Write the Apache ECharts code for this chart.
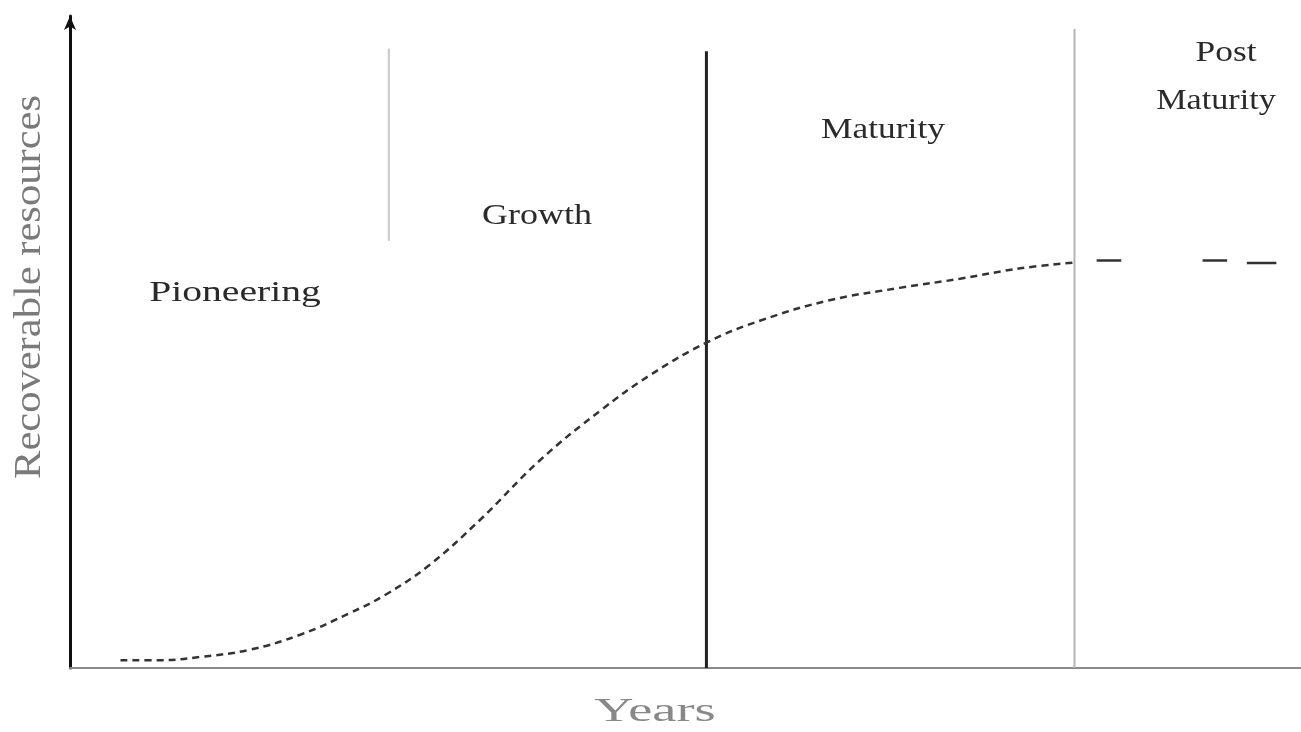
<!DOCTYPE html>
<html>
<head>
<meta charset="utf-8">
<title>Field life cycle</title>
<script src="https://cdn.jsdelivr.net/npm/echarts@6/dist/echarts.min.js"></script>
</head>
<body style="margin:0;background:#fff;">
<div id="main" style="width:1301px;height:732px;"></div>
<script>
// cumulative recoverable resources over the field's life (arbitrary units, 0-100)
var curveYears = [4.1, 7.3, 10.6, 14.6, 18.7, 22.7, 25.6, 29.2, 33.3, 38.2, 43.1, 47.1, 51.7, 56.1, 61.7, 67.4, 72.3, 77.2, 81.6];
var curveValues = [1.2, 1.2, 1.7, 2.8, 5.1, 8.4, 11.2, 15.8, 22.7, 31.9, 39.5, 44.9, 49.9, 53.3, 56.4, 58.3, 59.7, 61.3, 62.2];
// post maturity plateau, drawn as broken dashes
var tailYears = [83.4, 85.4, null, 92.0, 94.0, null, 95.6, 98.0];
var tailValues = [62.5, 62.5, null, 62.5, 62.5, null, 62.1, 62.1];
// phase boundaries: [year, top, bottom]
var boundaryGrowth = [25.9, 95.0, 65.5];
var boundaryMaturity = [51.7, 94.6, 0];
var boundaryPost = [81.6, 98.0, 0];
var phaseNames = ['Pioneering', 'Growth', 'Maturity', 'Post', 'Maturity'];

function pairs(xs, ys) {
    var out = [];
    for (var i = 0; i < xs.length; i++) {
        out.push(xs[i] == null ? [null, null] : [xs[i], ys[i]]);
    }
    return out;
}
function vline(b) {
    return [[b[0], b[2]], [b[0], b[1]]];
}
// serif label, stretched a little sideways like the scanned original
function label(text, x, y, sx, size, color) {
    return {
        type: 'text', x: x, y: y, scaleX: sx,
        style: {
            text: text, fontFamily: 'Liberation Serif', fontSize: size || 30,
            fill: color || '#2a2a2a', align: 'center', verticalAlign: 'middle'
        }
    };
}

var myChart = echarts.init(document.getElementById('main'));
var yName = label('Recoverable resources', 30, 287, 1.15, 37, '#7a7a7a');
yName.rotation = Math.PI / 2;

var option = {
    animation: false,
    grid: { left: 70, right: 0, top: 16, bottom: 64 },
    xAxis: {
        type: 'value', min: 0, max: 100,
        axisLine: { show: true, onZero: false, lineStyle: { color: '#8a8a8a', width: 2 } },
        axisTick: { show: false }, axisLabel: { show: false }, splitLine: { show: false }
    },
    yAxis: {
        type: 'value', min: 0, max: 100,
        axisLine: { show: true, symbol: ['none', 'arrow'], symbolSize: [9, 14], lineStyle: { color: '#111', width: 3 } },
        axisTick: { show: false }, axisLabel: { show: false }, splitLine: { show: false }
    },
    series: [
        {
            type: 'line', data: vline(boundaryGrowth), symbol: 'none',
            lineStyle: { color: '#c8c8c8', width: 2 }
        },
        {
            type: 'line', data: vline(boundaryMaturity), symbol: 'none',
            lineStyle: { color: '#222', width: 3 }
        },
        {
            type: 'line', data: vline(boundaryPost), symbol: 'none',
            lineStyle: { color: '#b5b5b5', width: 2 }
        },
        {
            type: 'line', data: pairs(curveYears, curveValues), symbol: 'none', smooth: 0.4,
            lineStyle: { color: '#333', width: 2.5, type: [7, 5] }
        },
        {
            type: 'line', data: pairs(tailYears, tailValues), symbol: 'none', connectNulls: false,
            lineStyle: { color: '#333', width: 2.5 }
        }
    ],
    graphic: [
        label(phaseNames[0], 235, 293, 1.32),
        label(phaseNames[1], 537, 216, 1.2),
        label(phaseNames[2], 883, 130, 1.18),
        label(phaseNames[3], 1226, 53, 1.18),
        label(phaseNames[4], 1216, 101, 1.14),
        yName,
        label('Years', 655, 712, 1.6, 34, '#888')
    ]
};
myChart.setOption(option);
</script>
</body>
</html>
